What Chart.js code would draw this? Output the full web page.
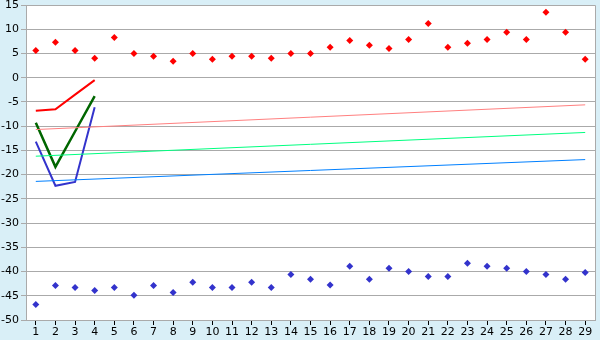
<!DOCTYPE html>
<html>
<head>
<meta charset="utf-8">
<script src="https://cdn.jsdelivr.net/npm/chart.js@4"></script>
<style>
  body { margin: 0; background: #d9eff7; }
  canvas { display: block; }
</style>
</head>
<body>
<canvas id="chart" width="600" height="340"></canvas>
<script>
// category labels along the bottom
var labels = [];
for (var i = 1; i <= 29; i++) labels.push(String(i));

// scattered points (red on top, blue at the bottom)
var upperPoints = [5.6, 7.3, 5.6, 4.0, 8.3, 5.0, 4.4, 3.4, 5.0, 3.8,
                   4.4, 4.4, 4.0, 5.0, 5.0, 6.3, 7.7, 6.7, 6.0, 7.9,
                   11.2, 6.3, 7.1, 7.9, 9.4, 7.9, 13.5, 9.4, 3.8];
var lowerPoints = [-46.8, -42.9, -43.3, -43.9, -43.3, -44.9, -42.9, -44.3, -42.2, -43.3,
                   -43.3, -42.2, -43.3, -40.6, -41.6, -42.8, -38.9, -41.6, -39.3, -40.0,
                   -41.0, -41.0, -38.3, -38.9, -39.3, -40.0, -40.6, -41.6, -40.2];

// short lines over the first four categories
var redLine = [-6.8, -6.5, -3.5, -0.5];
var greenLine = [-9.3, -18.4, -11.1, -3.8];
var blueLine = [-13.2, -22.3, -21.5, -6.1];

// thin trend lines, value at category 1 and at category 29
var redTrend = [-10.7, -5.6];
var greenTrend = [-16.2, -11.3];
var blueTrend = [-21.4, -16.9];

function trend(vals) {
    return [{ x: labels[0], y: vals[0] }, { x: labels[labels.length - 1], y: vals[1] }];
}

var plotArea = {
    id: 'plotArea',
    beforeDraw: function (chart) {
        var c = chart.ctx, a = chart.chartArea;
        c.save();
        c.fillStyle = '#ffffff';
        c.fillRect(a.left, a.top, a.right - a.left, a.bottom - a.top);
        c.restore();
    },
    afterDraw: function (chart) {
        var c = chart.ctx, a = chart.chartArea;
        c.save();
        c.strokeStyle = '#aaaaaa';
        c.lineWidth = 1;
        c.beginPath();
        c.moveTo(a.left, a.top + 0.5);
        c.lineTo(a.right + 0.5, a.top + 0.5);
        c.lineTo(a.right + 0.5, a.bottom);
        c.stroke();
        c.restore();
    }
};

new Chart(document.getElementById('chart'), {
    type: 'line',
    data: {
        labels: labels,
        datasets: [
            { data: trend(redTrend), borderColor: '#ff8080', borderWidth: 1, pointRadius: 0 },
            { data: trend(greenTrend), borderColor: '#00ff80', borderWidth: 1, pointRadius: 0 },
            { data: trend(blueTrend), borderColor: '#0080ff', borderWidth: 1, pointRadius: 0 },
            { data: redLine, borderColor: '#ff0000', borderWidth: 2, pointRadius: 0 },
            { data: greenLine, borderColor: '#006600', borderWidth: 2.5, pointRadius: 0 },
            { data: blueLine, borderColor: '#3333cc', borderWidth: 2, pointRadius: 0 },
            {
                data: upperPoints, showLine: false, pointStyle: 'rectRot', pointRadius: 3.5,
                backgroundColor: '#ff0000', borderColor: '#ff0000', borderWidth: 0
            },
            {
                data: lowerPoints, showLine: false, pointStyle: 'rectRot', pointRadius: 3.5,
                backgroundColor: '#3333cc', borderColor: '#3333cc', borderWidth: 0
            }
        ]
    },
    options: {
        responsive: false,
        animation: false,
        devicePixelRatio: 1,
        layout: { padding: { top: 5, right: 5, left: 0, bottom: 0 } },
        plugins: { legend: { display: false }, tooltip: { enabled: false } },
        scales: {
            x: {
                offset: true,
                grid: { drawOnChartArea: false, color: '#000000', tickLength: 5 },
                border: { color: '#aaaaaa' },
                ticks: { color: '#000000', font: { family: 'DejaVu Sans', size: 11 }, padding: 1, maxRotation: 0, autoSkip: false },
                afterFit: function (s) { s.height = 20; s.paddingLeft = 0; s.paddingRight = 0; }
            },
            y: {
                min: -50,
                max: 15,
                ticks: { stepSize: 5, color: '#000000', font: { family: 'DejaVu Sans', size: 11 }, padding: 2 },
                grid: { color: '#aaaaaa', tickLength: 5, tickColor: '#aaaaaa' },
                border: { color: '#aaaaaa' },
                afterFit: function (s) { s.width = 26; s.paddingTop = 0; s.paddingBottom = 0; }
            }
        }
    },
    plugins: [plotArea]
});
</script>
</body>
</html>
